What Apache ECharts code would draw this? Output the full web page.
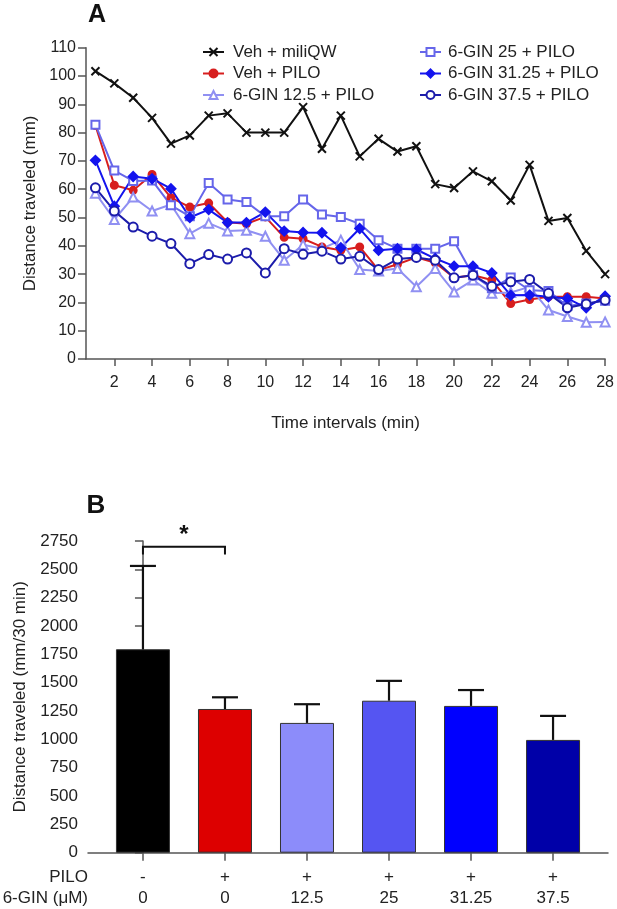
<!DOCTYPE html>
<html lang="en">
<head>
    <meta charset="utf-8">
    <title>Distance traveled</title>
    <script src="https://cdn.jsdelivr.net/npm/echarts@6.0.0/dist/echarts.min.js"></script>
    <style type="text/css">
        html, body {margin: 0; padding: 0; background: #fff;}
        #chart {width: 617px; height: 909px;}
    </style>
</head>
<body>
    <div id="chart"></div>
    <script>
        // panel A: distance per minute
        var minutes = [1, 2, 3, 4, 5, 6, 7, 8, 9, 10, 11, 12, 13, 14, 15, 16, 17, 18, 19, 20, 21, 22, 23, 24, 25, 26, 27, 28];
        var timeTicks = [2, 4, 6, 8, 10, 12, 14, 16, 18, 20, 22, 24, 26, 28];
        var vehMiliQW = [101.7, 97.4, 92.3, 85.2, 76.1, 79, 86, 86.8, 80, 80, 80, 89, 74.3, 86, 71.6, 77.8, 73.3, 75.2, 61.8, 60.4, 66.3, 62.8, 56, 68.6, 48.8, 49.8, 38.2, 30];
        var vehPilo = [82.5, 61.4, 59.6, 65.2, 57, 53.7, 55.1, 48.3, 47.8, 50.2, 43, 42.5, 39.6, 38.4, 39.6, 31.4, 33.5, 35.9, 34, 28.7, 29.6, 27.9, 19.6, 21, 22, 22, 22, 21.4];
        var gin125 = [58.6, 49.3, 57.2, 52.3, 54.6, 44.3, 48, 45.2, 45.5, 43.4, 34.9, 40.4, 39, 42, 31.6, 31.1, 32, 25.5, 32, 23.7, 27.9, 23.2, 23.5, 25.5, 17.3, 15, 13, 13.1];
        var gin25 = [82.8, 66.6, 62.9, 63.1, 54.3, 50.4, 62.2, 56.4, 55.5, 50.4, 50.4, 56.4, 51.1, 50.2, 47.8, 42, 39, 39, 39, 41.6, 29.6, 25, 28.8, 24.3, 24, 18.7, 19.6, 20.6];
        var gin3125 = [70.2, 54, 64.5, 63.7, 60.2, 50, 52.8, 48.2, 48.2, 51.9, 45.2, 44.7, 44.6, 39.3, 46.1, 38.4, 39, 38.7, 35.5, 32.8, 32.8, 30.4, 22.5, 22.6, 22, 21.4, 18.1, 22.2];
        var gin375 = [60.5, 52.3, 46.6, 43.4, 40.8, 33.7, 36.9, 35.3, 37.5, 30.4, 39, 37, 38.1, 35.3, 36.3, 31.6, 35.3, 35.9, 34.9, 28.7, 29.6, 25.7, 27.3, 28.1, 23.2, 18.1, 19.4, 20.8];

        // panel B: total distance in 30 min
        var groups = [0, 1, 2, 3, 4, 5];
        var piloRow = ['-', '+', '+', '+', '+', '+'];
        var ginRow = ['0', '0', '12.5', '25', '31.25', '37.5'];
        var totals = [1795, 1268, 1145, 1341, 1295, 995];
        var errors = [735, 103, 165, 175, 140, 212];
        var barColors = ['#000000', '#dd0000', '#8c8cfa', '#5555f2', '#0000ff', '#0000a8'];

        var font = "'Liberation Sans', Arial, sans-serif";
        var ink = '#222';
        var axisColor = '#555';

        function pairs(arr) {
            return minutes.map(function (m, i) { return [m, arr[i]]; });
        }

        function lineSeries(name, arr, color, symbol, size, extra) {
            var s = {
                name: name, type: 'line', xAxisIndex: 0, yAxisIndex: 0,
                data: pairs(arr), symbol: symbol, symbolSize: size,
                lineStyle: {color: color, width: 2},
                itemStyle: {color: color, borderColor: color, borderWidth: 2}
            };
            for (var k in extra) s[k] = extra[k];
            return s;
        }

        var axisBase = {
            axisLine: {show: true, lineStyle: {color: axisColor, width: 1.5}},
            axisTick: {show: true, lineStyle: {color: axisColor, width: 1.5}},
            splitLine: {show: false}
        };

        var chart = echarts.init(document.getElementById('chart'), null, {renderer: 'canvas'});
        chart.setOption({
            animation: false,
            textStyle: {fontFamily: font, color: ink},
            grid: [
                {left: 86, right: 11, top: 47.7, bottom: 550},
                {left: 88, right: 9, top: 541, bottom: 56.3}
            ],
            legend: [
                {
                    data: ['Veh + miliQW', 'Veh + PILO', '6-GIN 12.5 + PILO'],
                    orient: 'vertical', left: 197, top: 38,
                    itemWidth: 21, itemHeight: 10, itemGap: 3.5,
                    textStyle: {fontFamily: font, fontSize: 17, color: ink, lineHeight: 18, padding: [0, 0, 0, 4]}
                },
                {
                    data: ['6-GIN 25 + PILO', '6-GIN 31.25 + PILO', '6-GIN 37.5 + PILO'],
                    orient: 'vertical', left: 414, top: 38,
                    itemWidth: 21, itemHeight: 10, itemGap: 3.5,
                    textStyle: {fontFamily: font, fontSize: 17, color: ink, lineHeight: 18, padding: [0, 0, 0, 2]}
                }
            ],
            xAxis: [
                Object.assign({}, axisBase, {
                    type: 'value', gridIndex: 0, min: 0.5, max: 28,
                    name: 'Time intervals (min)', nameLocation: 'middle', nameGap: 56,
                    nameTextStyle: {fontFamily: font, fontSize: 17, color: ink},
                    axisTick: {show: true, length: 7, customValues: timeTicks, lineStyle: {color: axisColor, width: 1.5}},
                    axisLabel: {customValues: timeTicks, fontSize: 16, color: ink, margin: 16}
                }),
                Object.assign({}, axisBase, {
                    type: 'value', gridIndex: 1, min: -0.67, max: 5.67,
                    axisTick: {show: true, length: 8, customValues: groups, lineStyle: {color: axisColor, width: 1.5}},
                    axisLabel: {
                        customValues: groups, fontSize: 17, color: ink, margin: 14, lineHeight: 21,
                        formatter: function (v) { return piloRow[v] + '\n' + ginRow[v]; }
                    }
                })
            ],
            yAxis: [
                Object.assign({}, axisBase, {
                    type: 'value', gridIndex: 0, min: 0, max: 110, interval: 10,
                    name: 'Distance traveled (mm)', nameLocation: 'middle', nameGap: 46,
                    nameTextStyle: {fontFamily: font, fontSize: 17, color: ink},
                    axisTick: {show: true, length: 8, lineStyle: {color: axisColor, width: 1.5}},
                    axisLabel: {fontSize: 16, color: ink, margin: 10}
                }),
                Object.assign({}, axisBase, {
                    type: 'value', gridIndex: 1, min: 0, max: 2750, interval: 250,
                    name: 'Distance traveled (mm/30 min)', nameLocation: 'middle', nameGap: 52,
                    nameTextStyle: {fontFamily: font, fontSize: 17, color: ink},
                    axisTick: {show: true, length: 8, lineStyle: {color: axisColor, width: 1.5}},
                    axisLabel: {fontSize: 17, color: ink, margin: 10, formatter: function (v) { return String(v); }}
                })
            ],
            graphic: [
                {type: 'text', x: 97, y: 15, style: {text: 'A', font: 'bold 25px ' + font, fill: '#111', align: 'center', verticalAlign: 'middle'}},
                {type: 'text', x: 96, y: 506, style: {text: 'B', font: 'bold 26px ' + font, fill: '#111', align: 'center', verticalAlign: 'middle'}},
                {type: 'text', x: 88, y: 877.5, style: {text: 'PILO', font: '17px ' + font, fill: ink, align: 'right', verticalAlign: 'middle'}},
                {type: 'text', x: 88, y: 898.5, style: {text: '6-GIN (\u03bcM)', font: '17px ' + font, fill: ink, align: 'right', verticalAlign: 'middle'}}
            ],
            series: [
                lineSeries('Veh + miliQW', vehMiliQW, '#111111', 'path://M0,0L10,10M0,10L10,0', 8, {z: 3}),
                lineSeries('Veh + PILO', vehPilo, '#d71e1e', 'circle', 7),
                lineSeries('6-GIN 12.5 + PILO', gin125, '#9090f2', 'emptyTriangle', 9),
                lineSeries('6-GIN 25 + PILO', gin25, '#6666ea', 'emptyRect', 8),
                lineSeries('6-GIN 31.25 + PILO', gin3125, '#1414ee', 'diamond', 9),
                lineSeries('6-GIN 37.5 + PILO', gin375, '#1c1cab', 'emptyCircle', 9),
                {
                    type: 'bar', xAxisIndex: 1, yAxisIndex: 1, barWidth: 54,
                    data: groups.map(function (g, i) {
                        return {value: [g, totals[i]], itemStyle: {color: barColors[i], borderColor: '#333', borderWidth: 1}};
                    })
                },
                {
                    type: 'custom', xAxisIndex: 1, yAxisIndex: 1, z: 5,
                    encode: {x: 0, y: [1, 2]},
                    data: groups.map(function (g, i) { return [g, totals[i], totals[i] + errors[i]]; }),
                    renderItem: function (params, api) {
                        var base = api.coord([api.value(0), api.value(1)]);
                        var top = api.coord([api.value(0), api.value(2)]);
                        var st = {stroke: '#111', lineWidth: 2.2};
                        return {type: 'group', children: [
                            {type: 'line', shape: {x1: base[0], y1: base[1], x2: top[0], y2: top[1]}, style: st},
                            {type: 'line', shape: {x1: top[0] - 13, y1: top[1], x2: top[0] + 13, y2: top[1]}, style: st}
                        ]};
                    }
                },
                {
                    type: 'custom', xAxisIndex: 1, yAxisIndex: 1, z: 5,
                    encode: {x: [0, 1], y: [2, 3]},
                    data: [[0, 1, 2700, 2630]],
                    renderItem: function (params, api) {
                        var a = api.coord([api.value(0), api.value(3)]);
                        var b = api.coord([api.value(0), api.value(2)]);
                        var c = api.coord([api.value(1), api.value(2)]);
                        var d = api.coord([api.value(1), api.value(3)]);
                        return {type: 'group', children: [
                            {type: 'polyline', shape: {points: [a, b, c, d]}, style: {stroke: '#111', lineWidth: 2, fill: null}},
                            {type: 'text', x: (b[0] + c[0]) / 2, y: b[1] - 11,
                             style: {text: '*', font: 'bold 24px ' + font, fill: '#111', align: 'center', verticalAlign: 'middle'}}
                        ]};
                    }
                }
            ]
        });
    </script>
</body>
</html>
